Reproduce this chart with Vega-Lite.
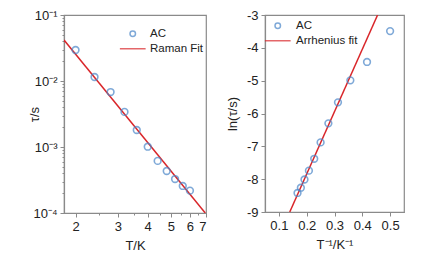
{
  "$schema": "https://vega.github.io/schema/vega-lite/v6.json",
  "background": "white",
  "padding": {"left": 27, "top": 8, "right": 0, "bottom": 0},
  "spacing": 17,
  "datasets": {
    "ac": [
      {"T": 2.0, "tau": 0.0295, "invT": 0.5, "lnTau": -3.49, "series": "AC"},
      {"T": 2.4, "tau": 0.0115, "invT": 0.417, "lnTau": -4.43, "series": "AC"},
      {"T": 2.8, "tau": 0.0068, "invT": 0.357, "lnTau": -4.99, "series": "AC"},
      {"T": 3.2, "tau": 0.0034, "invT": 0.3125, "lnTau": -5.66, "series": "AC"},
      {"T": 3.6, "tau": 0.00181, "invT": 0.278, "lnTau": -6.3, "series": "AC"},
      {"T": 4.0, "tau": 0.00101, "invT": 0.25, "lnTau": -6.88, "series": "AC"},
      {"T": 4.4, "tau": 0.000616, "invT": 0.227, "lnTau": -7.38, "series": "AC"},
      {"T": 4.8, "tau": 0.000433, "invT": 0.208, "lnTau": -7.74, "series": "AC"},
      {"T": 5.2, "tau": 0.000327, "invT": 0.192, "lnTau": -8.01, "series": "AC"},
      {"T": 5.6, "tau": 0.000257, "invT": 0.179, "lnTau": -8.26, "series": "AC"},
      {"T": 6.0, "tau": 0.000218, "invT": 0.167, "lnTau": -8.42, "series": "AC"}
    ],
    "raman": [
      {"T": 1.79, "tau": 0.0418, "series": "Raman Fit"},
      {"T": 6.95, "tau": 0.0001, "series": "Raman Fit"}
    ],
    "arr": [
      {"invT": 0.139, "lnTau": -9, "series": "Arrhenius fit"},
      {"invT": 0.455, "lnTau": -3, "series": "Arrhenius fit"}
    ]
  },
  "hconcat": [
    {
      "width": 142,
      "height": 198,
      "layer": [
        {
          "data": {"name": "raman"},
          "mark": {"type": "line", "color": "#d9262a", "strokeWidth": 1.5, "clip": true},
          "encoding": {
            "x": {"field": "T", "type": "quantitative"},
            "y": {"field": "tau", "type": "quantitative"},
            "color": {"field": "series", "type": "nominal"}
          }
        },
        {
          "data": {"name": "ac"},
          "mark": {"type": "point", "filled": false, "size": 45, "strokeWidth": 1.6},
          "encoding": {
            "x": {
              "field": "T", "type": "quantitative",
              "scale": {"type": "log", "domain": [1.79, 7], "nice": false, "zero": false},
              "axis": {
                "title": "T/K",
                "values": [2, 2.5, 3, 3.5, 4, 4.5, 5, 5.5, 6, 6.5, 7],
                "tickCount": 30,
                "labelExpr": "datum.value % 1 == 0 ? '' + datum.value : ''",
                "tickSize": {"condition": {"test": "datum.value % 1 == 0", "value": 4}, "value": 2},
                "titleY": 32,
                "titleBaseline": "middle"
              }
            },
            "y": {
              "field": "tau", "type": "quantitative",
              "scale": {"type": "log", "domain": [0.0001, 0.1], "nice": false, "zero": false},
              "axis": {
                "title": "τ/s",
                "values": [0.0001, 0.0002, 0.0003, 0.0004, 0.0005, 0.0006, 0.0007, 0.0008, 0.0009, 0.001, 0.002, 0.003, 0.004, 0.005, 0.006, 0.007, 0.008, 0.009, 0.01, 0.02, 0.03, 0.04, 0.05, 0.06, 0.07, 0.08, 0.09, 0.1],
                "tickCount": 60,
                "labelExpr": "datum.value == 0.1 ? '10⁻¹' : datum.value == 0.01 ? '10⁻²' : datum.value == 0.001 ? '10⁻³' : datum.value == 0.0001 ? '10⁻⁴' : ''",
                "tickSize": {"condition": {"test": "datum.value == 0.1 || datum.value == 0.01 || datum.value == 0.001 || datum.value == 0.0001", "value": 4}, "value": 2},
                "titleX": -30,
                "titleBaseline": "middle"
              }
            },
            "color": {
              "field": "series", "type": "nominal",
              "scale": {"domain": ["AC", "Raman Fit"], "range": ["#4a86c8", "#d9262a"]},
              "legend": {
                "title": null, "orient": "none", "legendX": 63, "legendY": 13,
                "symbolSize": 30, "labelOffset": 11.5, "rowPadding": 2
              }
            },
            "shape": {
              "field": "series", "type": "nominal",
              "scale": {"domain": ["AC", "Raman Fit"], "range": ["circle", "M-4.7,0H4.7"]},
              "legend": {
                "title": null, "orient": "none", "legendX": 63, "legendY": 13,
                "symbolSize": 30, "labelOffset": 11.5, "rowPadding": 2
              }
            }
          }
        }
      ]
    },
    {
      "width": 139,
      "height": 197,
      "layer": [
        {
          "data": {"name": "arr"},
          "mark": {"type": "line", "color": "#d9262a", "strokeWidth": 1.5, "clip": true},
          "encoding": {
            "x": {"field": "invT", "type": "quantitative"},
            "y": {"field": "lnTau", "type": "quantitative"},
            "color": {"field": "series", "type": "nominal"}
          }
        },
        {
          "data": {"name": "ac"},
          "mark": {"type": "point", "filled": false, "size": 45, "strokeWidth": 1.6},
          "encoding": {
            "x": {
              "field": "invT", "type": "quantitative",
              "scale": {"domain": [0.05, 0.55], "nice": false, "zero": false},
              "axis": {
                "title": "T⁻¹/K⁻¹",
                "values": [0.1, 0.2, 0.3, 0.4, 0.5],
                "tickCount": 20,
                "format": ".1f",
                "tickSize": 4,
                "titleY": 32,
                "titleBaseline": "middle"
              }
            },
            "y": {
              "field": "lnTau", "type": "quantitative",
              "scale": {"domain": [-9, -3], "nice": false, "zero": false},
              "axis": {
                "title": "ln(τ/s)",
                "values": [-9, -8, -7, -6, -5, -4, -3],
                "tickCount": 20,
                "labelExpr": "'' + datum.value",
                "tickSize": 4,
                "titleX": -33,
                "titleBaseline": "middle"
              }
            },
            "color": {
              "field": "series", "type": "nominal",
              "scale": {"domain": ["AC", "Arrhenius fit"], "range": ["#4a86c8", "#d9262a"]},
              "legend": {
                "title": null, "orient": "none", "legendX": 7, "legendY": 5,
                "symbolSize": 30, "labelOffset": 12.5, "rowPadding": 2
              }
            },
            "shape": {
              "field": "series", "type": "nominal",
              "scale": {"domain": ["AC", "Arrhenius fit"], "range": ["circle", "M-4.7,0H4.7"]},
              "legend": {
                "title": null, "orient": "none", "legendX": 7, "legendY": 5,
                "symbolSize": 30, "labelOffset": 12.5, "rowPadding": 2
              }
            }
          }
        }
      ]
    }
  ],
  "resolve": {"scale": {"color": "independent", "shape": "independent"}},
  "config": {
    "font": "Liberation Sans",
    "view": {"stroke": "#8a8a8a", "strokeWidth": 1.2},
    "axis": {
      "grid": false,
      "labelOverlap": false,
      "domainColor": "#8a8a8a",
      "domainWidth": 1.2,
      "tickColor": "#8a8a8a",
      "tickWidth": 1,
      "labelFont": "Liberation Sans",
      "labelFontSize": 13,
      "labelColor": "#222222",
      "labelPadding": 3,
      "titleFont": "Liberation Sans",
      "titleFontSize": 13,
      "titleFontWeight": "normal",
      "titleColor": "#222222"
    },
    "legend": {
      "labelFont": "Liberation Sans",
      "labelFontSize": 11.5,
      "labelColor": "#222222",
      "symbolStrokeWidth": 1.5,
      "padding": 0
    }
  }
}
